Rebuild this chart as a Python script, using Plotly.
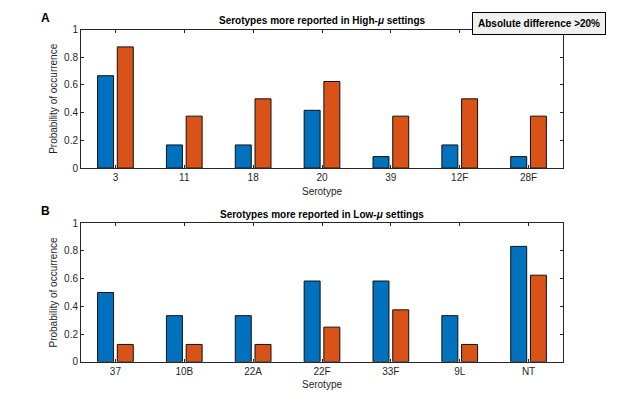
import plotly.graph_objects as go

W, H = 623, 406

cats_high = ["3", "11", "18", "20", "39", "12F", "28F"]
high_blue = [0.667, 0.167, 0.167, 0.417, 0.083, 0.167, 0.083]
high_orange = [0.875, 0.375, 0.5, 0.625, 0.375, 0.5, 0.375]

cats_low = ["37", "10B", "22A", "22F", "33F", "9L", "NT"]
low_blue = [0.5, 0.333, 0.333, 0.583, 0.583, 0.333, 0.833]
low_orange = [0.125, 0.125, 0.125, 0.25, 0.375, 0.125, 0.625]

yticks = [0, 0.2, 0.4, 0.6, 0.8, 1]
ytick_labels = ["0", "0.2", "0.4", "0.6", "0.8", "1"]

BLUE = "#0072BD"
ORANGE = "#D95319"
AX = "#262626"
FONT = "Liberation Sans, Arial, Helvetica, sans-serif"

def px_x(p):
    return p / W

def px_y(p):
    # compensate for the slight vertical squeeze observed in the rendered picture
    q = (p - 6.5) / 0.967
    return 1 - q / H

fig = go.Figure()
for cats, b, o, xa, ya in [(cats_high, high_blue, high_orange, "x", "y"),
                           (cats_low, low_blue, low_orange, "x2", "y2")]:
    xs = list(range(1, len(cats) + 1))
    fig.add_trace(go.Bar(x=xs, y=b, marker=dict(color=BLUE, line=dict(color="#111111", width=1)),
                         xaxis=xa, yaxis=ya, showlegend=False, hoverinfo="skip"))
    fig.add_trace(go.Bar(x=xs, y=o, marker=dict(color=ORANGE, line=dict(color="#111111", width=1)),
                         xaxis=xa, yaxis=ya, showlegend=False, hoverinfo="skip"))

xd = [px_x(81), px_x(563)]
axis_common = dict(showline=True, linecolor=AX, linewidth=1, mirror="ticks", ticks="inside",
                   ticklen=3, tickcolor=AX, tickfont=dict(family=FONT, size=10, color=AX),
                   showgrid=False, zeroline=False)

fig.update_layout(
    width=W, height=H, margin=dict(l=0, r=0, t=0, b=0),
    paper_bgcolor="white", plot_bgcolor="white",
    barmode="group", bargap=0.427, bargroupgap=0.19,
    font=dict(family=FONT, color=AX),
    xaxis=dict(domain=xd, range=[0.5, 7.5], tickvals=list(range(1, 8)), ticktext=cats_high,
               anchor="y", **axis_common),
    yaxis=dict(domain=[px_y(168), px_y(30)], range=[0, 1], tickvals=yticks, ticktext=ytick_labels,
               anchor="x", **axis_common),
    xaxis2=dict(domain=xd, range=[0.5, 7.5], tickvals=list(range(1, 8)), ticktext=cats_low,
                anchor="y2", **axis_common),
    yaxis2=dict(domain=[px_y(361), px_y(223)], range=[0, 1], tickvals=yticks, ticktext=ytick_labels,
                anchor="x2", **axis_common),
)

ann = []
def A(text, x, y, size=10, **kw):
    d = dict(text=text, x=px_x(x), y=px_y(y), xref="paper", yref="paper", showarrow=False,
             xanchor="center", yanchor="middle",
             font=dict(family=FONT, size=size, color=kw.pop("color", "#000000")))
    d.update(kw)
    ann.append(d)

A("<b>Serotypes more reported in High-<i>μ</i> settings</b>", 322, 21, size=10)
A("<b>Serotypes more reported in Low-<i>μ</i> settings</b>", 322, 214, size=10)
A("Serotype", 322, 191, size=10, color=AX)
A("Serotype", 322, 384, size=10, color=AX)
A("Probability of occurrence", 54, 99, size=10, color=AX, textangle=-90)
A("Probability of occurrence", 54, 292, size=10, color=AX, textangle=-90)
A("<b>A</b>", 45, 18, size=12)
A("<b>B</b>", 45, 211, size=12)
A("<b>Absolute difference >20%</b>", 538.5, 23.5, size=10, bgcolor="#f0f0f0",
  bordercolor="#000000", borderwidth=1, borderpad=5)
fig.update_layout(annotations=ann)

fig.write_html("out.html", config={"displayModeBar": False},
               post_script="document.body.style.margin='0';document.body.style.overflow='hidden';")
